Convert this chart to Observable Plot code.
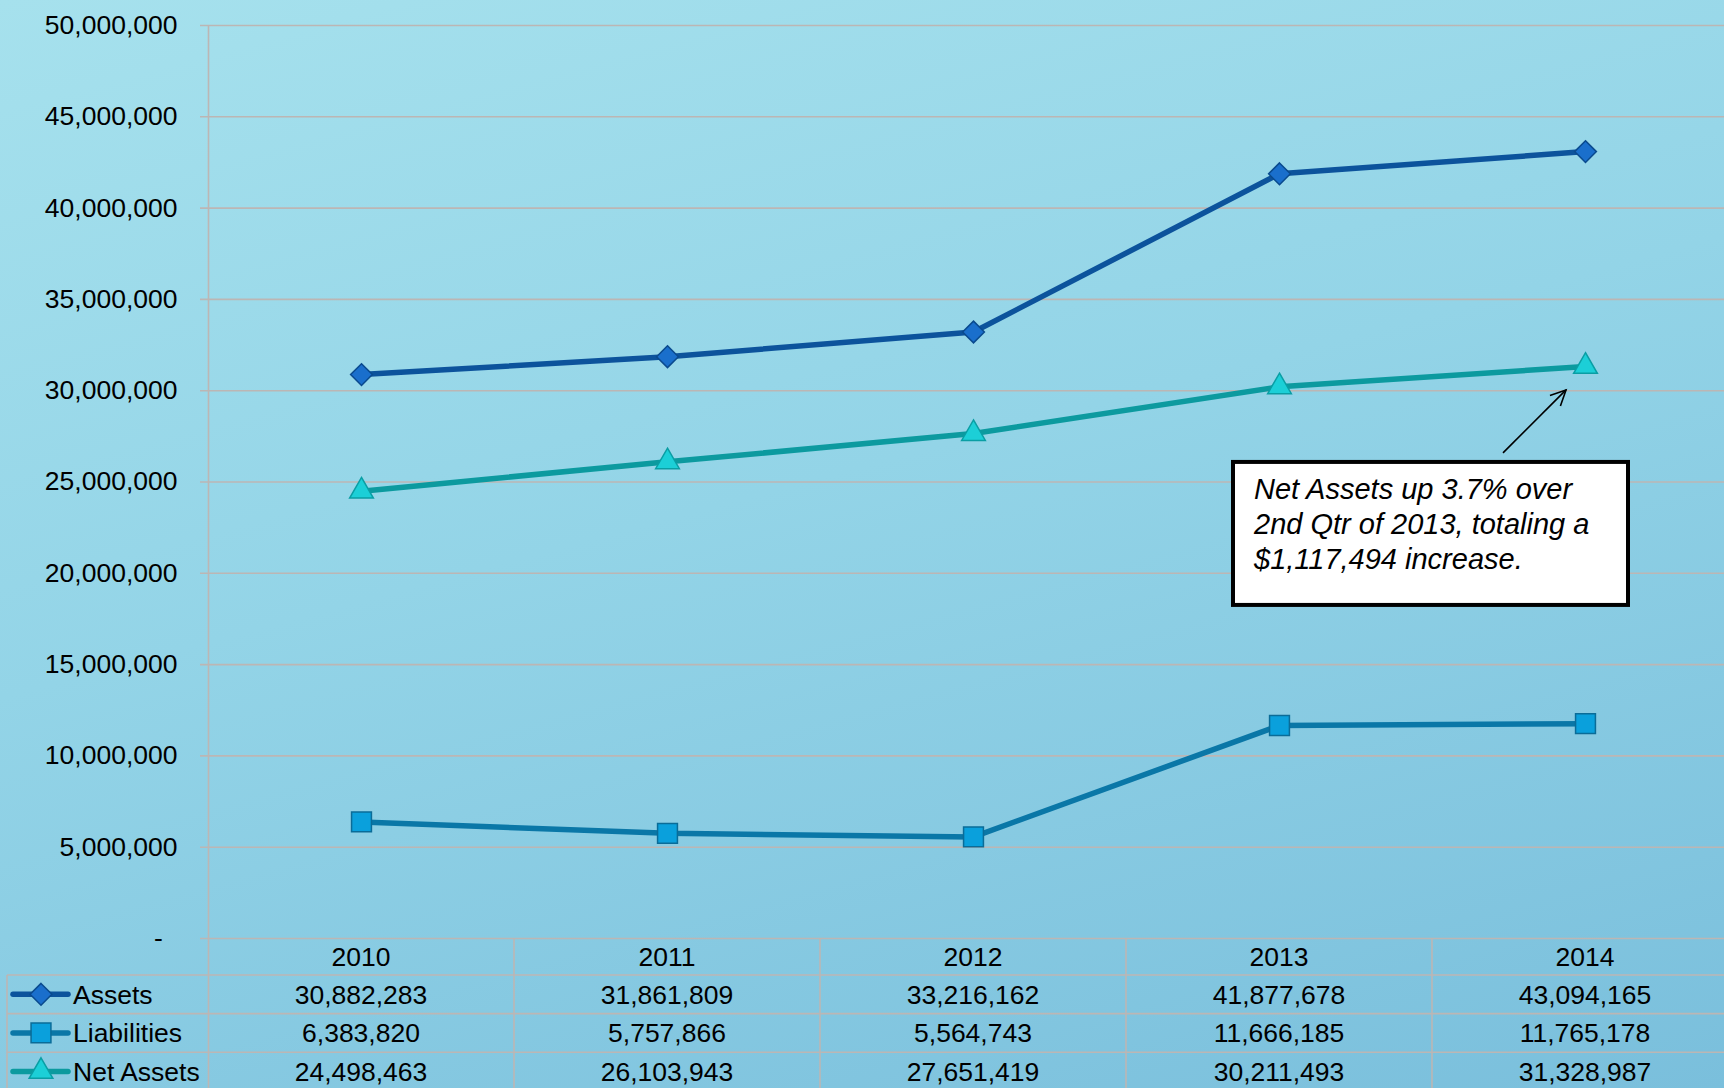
<!DOCTYPE html>
<html>
<head>
<meta charset="utf-8">
<script src="https://cdn.jsdelivr.net/npm/d3@7"></script>
<script src="https://cdn.jsdelivr.net/npm/@observablehq/plot@0.6"></script>
<style>
html, body { margin: 0; padding: 0; }
body {
  width: 1724px; height: 1088px; overflow: hidden;
  background: linear-gradient(165deg, #a6e1ed 0%, #93d4e7 45%, #7abfdc 100%);
  font-family: "Liberation Sans", Arial, sans-serif;
}
#chart svg { display: block; }
</style>
</head>
<body>
<div id="chart"></div>
<script>
// ---- data ----
const years = [2010, 2011, 2012, 2013, 2014];
const seriesNames = ["Assets", "Liabilities", "Net Assets"];
const assets = [30882283, 31861809, 33216162, 41877678, 43094165];
const liabilities = [6383820, 5757866, 5564743, 11666185, 11765178];
const netAssets = [24498463, 26103943, 27651419, 30211493, 31328987];
const yTicks = [0, 5000000, 10000000, 15000000, 20000000, 25000000, 30000000, 35000000, 40000000, 45000000, 50000000];
const annotationLines = ["Net Assets up 3.7% over", "2nd Qtr of 2013, totaling a", "$1,117,494 increase."];

// ---- styles ----
const seriesValues = {"Assets": assets, "Liabilities": liabilities, "Net Assets": netAssets};
const seriesStyle = {
  "Assets":      {line: "#0c539c", fill: "#1a6fcc", stroke: "#0a4a8e", symbol: d3.symbolDiamond2, r: 9.8},
  "Liabilities": {line: "#0a77a7", fill: "#0aa0dc", stroke: "#0a6c98", symbol: d3.symbolSquare, r: 11.2},
  "Net Assets":  {line: "#0c9a9f", fill: "#1ccfd7", stroke: "#0a9ea4", symbol: d3.symbolTriangle, r: 8.8}
};
const gridColor = "#bcb6b4";
const fmt = d3.format(",");

const rows = seriesNames.flatMap(s => years.map((yr, i) => ({series: s, year: yr, value: seriesValues[s][i]})));

const lineMarks = seriesNames.map(s => Plot.line(rows.filter(d => d.series === s), {
  x: "year", y: "value", stroke: seriesStyle[s].line, strokeWidth: 5.5, strokeLinejoin: "round"
}));
const dotMarks = seriesNames.map(s => Plot.dot(rows.filter(d => d.series === s), {
  x: "year", y: "value", symbol: seriesStyle[s].symbol, r: seriesStyle[s].r,
  fill: seriesStyle[s].fill, stroke: seriesStyle[s].stroke, strokeWidth: 1.5
}));

const chart = Plot.plot({
  width: 1724,
  height: 1088,
  marginLeft: 208,
  marginRight: -14,
  marginTop: 25,
  marginBottom: 150,
  style: {background: "transparent", fontFamily: "'Liberation Sans', Arial, sans-serif", fontSize: "26.5px", color: "#000", overflow: "visible"},
  x: {domain: [years[0] - 0.5, years[years.length - 1] + 0.5], axis: null},
  y: {
    domain: [yTicks[0], yTicks[yTicks.length - 1]],
    ticks: yTicks,
    tickFormat: d => d === 0 ? "-  " : fmt(d),
    tickSize: 0,
    tickPadding: 31,
    label: null
  },
  marks: [
    Plot.ruleY(yTicks, {stroke: gridColor, strokeWidth: 1.6, insetLeft: -8}),
    Plot.ruleX([years[0] - 0.5], {stroke: gridColor, strokeWidth: 1.6, insetBottom: -150}),
    ...lineMarks,
    ...dotMarks
  ]
});
document.getElementById("chart").appendChild(chart);

// ---- data table below the plot, positioned with Plot's scales ----
const xs = d3.scaleLinear(chart.scale("x").domain, chart.scale("x").range);
const ys = d3.scaleLinear(chart.scale("y").domain, chart.scale("y").range);
const svg = d3.select(chart);
const top0 = ys(0);            // frame bottom = header row top
const headerH = 37, rowH = 38.6, tableLeft = 7, bottom = 1088;
const right = 1724;
const g = svg.append("g").attr("text-anchor", "start").attr("font-family", "'Liberation Sans', Arial, sans-serif");

// horizontal lines
seriesNames.forEach((s, i) => {
  const yy = top0 + headerH + i * rowH;
  g.append("line").attr("x1", tableLeft).attr("x2", right).attr("y1", yy).attr("y2", yy)
    .attr("stroke", gridColor).attr("stroke-width", 1.6);
});
// left border
g.append("line").attr("x1", tableLeft).attr("x2", tableLeft).attr("y1", top0 + headerH).attr("y2", bottom)
  .attr("stroke", gridColor).attr("stroke-width", 1.6);
// column dividers
years.forEach(yr => {
  const xx = xs(yr + 0.5);
  g.append("line").attr("x1", xx).attr("x2", xx).attr("y1", top0).attr("y2", bottom)
    .attr("stroke", gridColor).attr("stroke-width", 1.6);
});
// header years
years.forEach(yr => {
  g.append("text").attr("x", xs(yr)).attr("y", top0 + headerH / 2).attr("dy", "0.36em")
    .attr("text-anchor", "middle").attr("font-size", 26.5).attr("fill", "#000").text(yr);
});
// rows
seriesNames.forEach((s, i) => {
  const cy = top0 + headerH + i * rowH + rowH / 2;
  const st = seriesStyle[s];
  g.append("line").attr("x1", 13).attr("x2", 68).attr("y1", cy).attr("y2", cy)
    .attr("stroke", st.line).attr("stroke-width", 5.5).attr("stroke-linecap", "round");
  g.append("path").attr("transform", `translate(41,${cy})`)
    .attr("d", d3.symbol(st.symbol, st.r * st.r * Math.PI)())
    .attr("fill", st.fill).attr("stroke", st.stroke).attr("stroke-width", 1.5);
  g.append("text").attr("x", 73).attr("y", cy).attr("dy", "0.36em")
    .attr("text-anchor", "start").attr("font-size", 26.5).attr("fill", "#000").text(s);
  seriesValues[s].forEach((v, j) => {
    g.append("text").attr("x", xs(years[j])).attr("y", cy).attr("dy", "0.36em")
      .attr("text-anchor", "middle").attr("font-size", 26.5).attr("fill", "#000").text(fmt(v));
  });
});

// ---- annotation anchored to the 2014 Net Assets point ----
const px = xs(years[4]), py = ys(netAssets[4]);
const ag = svg.append("g").attr("text-anchor", "start").attr("font-family", "'Liberation Sans', Arial, sans-serif");
ag.append("rect").attr("x", px - 352).attr("y", py + 96).attr("width", 395).attr("height", 143)
  .attr("fill", "#fff").attr("stroke", "#000").attr("stroke-width", 4);
annotationLines.forEach((t, i) => {
  ag.append("text").attr("x", px - 331).attr("y", py + 133 + i * 35)
    .attr("text-anchor", "start").attr("font-size", 29).attr("font-style", "italic").attr("fill", "#000").text(t);
});
const ax1 = px - 82, ay1 = py + 87, ax2 = px - 19, ay2 = py + 24;
ag.append("line").attr("x1", ax1).attr("y1", ay1).attr("x2", ax2).attr("y2", ay2)
  .attr("stroke", "#000").attr("stroke-width", 1.6);
const ang = Math.atan2(ay2 - ay1, ax2 - ax1), L = 17, spread = 0.45;
ag.append("path")
  .attr("d", `M${ax2 - L * Math.cos(ang - spread)},${ay2 - L * Math.sin(ang - spread)}L${ax2},${ay2}L${ax2 - L * Math.cos(ang + spread)},${ay2 - L * Math.sin(ang + spread)}`)
  .attr("fill", "none").attr("stroke", "#000").attr("stroke-width", 1.6);
</script>
</body>
</html>
